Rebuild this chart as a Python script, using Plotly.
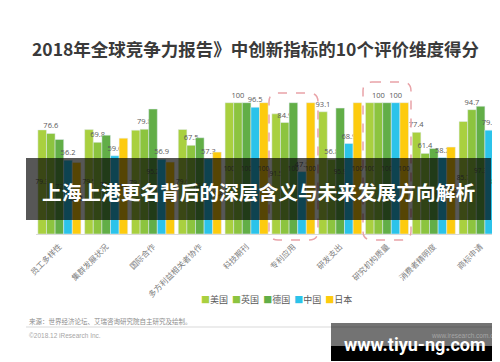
import plotly.graph_objects as go

categories = ["员工多样性", "集群发展状况", "国际合作", "多方利益相关者协作", "科技期刊",
              "专利应用", "研发支出", "研究机构质量", "消费者精明度", "商标申请"]
series_names = ["美国", "英国", "德国", "中国", "日本"]
usa = [79.3, 79.5, 79.1, 79.6, 100, 91.5, 93.1, 100, 77.4, 85.7]
uk = [76.6, 69.8, 79.8, 67.5, 100, 84.9, 56.8, 100, 61.4, 94.7]
germany = [72.0, 75.3, 95.2, 73.3, 100, 100, 95.9, 100, 65.1, 97.3]
china = [56.2, 59.6, 56.9, 57.3, 96.5, 47.5, 68.9, 100, 58.2, 79.1]
japan = [54.5, 73.0, 54.8, 62.4, 100, 100, 100, 100, 66.2, 80.7]
series_values = [usa, uk, germany, china, japan]
colors = ["#a9d03f", "#8cc43f", "#62ae47", "#2bc3ea", "#fdcb0e"]

title_text = "2018年全球竞争力报告》中创新指标的10个评价维度得分"
banner_text = "上海上港更名背后的深层含义与未来发展方向解析"
source_text = "来源：世界经济论坛、艾瑞咨询研究院自主研究及绘制。"
copyright_text = "©2018.12 iResearch Inc."
site_text = "www.iresearch.com.cn"
watermark_text = "www.tiyu-ng.com"

W, H = 500, 362
L, R, T, B = 28, 4, 75, 136
PW, PH = W - L - R, H - T - B


def px(x):
    return (x - L) / PW


def py(y):
    return (H - B - y) / PH


FONT = "Noto Sans CJK SC"

fig = go.Figure()
for i, (name, vals, col) in enumerate(zip(series_names, series_values, colors)):
    if name in ("英国", "中国"):
        pos = "outside"
    elif name == "美国":
        pos = ["outside" if k in (6, 8) else "inside" for k in range(len(vals))]
    else:
        pos = "inside"
    fig.add_trace(go.Bar(
        x=categories, y=vals, name=name, marker_color=col, showlegend=False,
        text=[f"{v:g}" for v in vals], textposition=pos, insidetextanchor="middle",
        textangle=0, constraintext="none", cliponaxis=False,
        textfont=dict(size=7.5, color="#595959", family="Open Sans"),
        insidetextfont=dict(size=6.5, color="#595959", family="Open Sans"),
        outsidetextfont=dict(size=7.5, color="#595959", family="Open Sans"),
    ))


def rounded(x0, y0, x1, y1, r):
    pts = [
        ("M", [(x0 + r, y0)]), ("L", [(x1 - r, y0)]), ("Q", [(x1, y0), (x1, y0 + r)]),
        ("L", [(x1, y1 - r)]), ("Q", [(x1, y1), (x1 - r, y1)]), ("L", [(x0 + r, y1)]),
        ("Q", [(x0, y1), (x0, y1 - r)]), ("L", [(x0, y0 + r)]), ("Q", [(x0, y0), (x0 + r, y0)]),
    ]
    s = ""
    for cmd, ps in pts:
        s += cmd + " " + " ".join(f"{px(a):.5f},{py(b):.5f}" for a, b in ps) + " "
    return s + "Z"


shapes = [
    dict(type="path", xref="paper", yref="paper", path=rounded(261, 85, 310, 232, 9),
         line=dict(color="#e9a3a8", width=1.5, dash="dash"), layer="above"),
    dict(type="path", xref="paper", yref="paper", path=rounded(355, 74, 403, 232, 9),
         line=dict(color="#e9a3a8", width=1.5, dash="dash"), layer="above"),
    # banner
    dict(type="rect", xref="paper", yref="paper", x0=px(18), x1=px(483), y0=py(212), y1=py(150),
         fillcolor="rgba(0,0,0,0.66)", line=dict(width=0), layer="above"),
    # footer line
    dict(type="line", xref="paper", yref="paper", x0=px(18), x1=px(491), y0=py(319), y1=py(319),
         line=dict(color="#d9d9d9", width=1), layer="above"),
    # watermark box
    dict(type="rect", xref="paper", yref="paper", x0=px(323), x1=px(491), y0=py(338), y1=py(315),
         fillcolor="rgba(0,0,0,0.55)", line=dict(width=0), layer="above"),
    dict(type="rect", xref="paper", yref="paper", x0=px(323), x1=px(491), y0=py(353), y1=py(338),
         fillcolor="#000000", line=dict(width=0), layer="above"),
]

legend_html = "  ".join(
    f"<span style='color:{c}'>■</span>{n}" for n, c in zip(series_names, colors)
)

annotations = [
    dict(text=f"<b>{title_text}</b>", x=px(247), y=py(41), xref="paper", yref="paper",
         showarrow=False, xanchor="center", yanchor="middle",
         font=dict(size=17.5, color="#3a3a3a", family=FONT)),
    dict(text=f"<b>{banner_text}</b>", x=px(250), y=py(183), xref="paper", yref="paper",
         showarrow=False, xanchor="center", yanchor="middle",
         font=dict(size=19.7, color="#ffffff", family=FONT)),
    dict(text=legend_html, x=px(268), y=py(291), xref="paper", yref="paper",
         showarrow=False, xanchor="center", yanchor="middle",
         font=dict(size=9, color="#595959", family=FONT)),
    dict(text=source_text, x=px(19), y=py(313), xref="paper", yref="paper",
         showarrow=False, xanchor="left", yanchor="middle",
         font=dict(size=6.5, color="#8c8c8c", family=FONT)),
    dict(text=copyright_text, x=px(19), y=py(327), xref="paper", yref="paper",
         showarrow=False, xanchor="left", yanchor="middle",
         font=dict(size=6.5, color="#a6a6a6", family="Liberation Sans")),
    dict(text=site_text, x=px(491), y=py(327), xref="paper", yref="paper",
         showarrow=False, xanchor="right", yanchor="middle",
         font=dict(size=6.5, color="#a6a6a6", family="Liberation Sans")),
    dict(text=f"<b>{watermark_text}</b>", x=px(407), y=py(336), xref="paper", yref="paper",
         showarrow=False, xanchor="center", yanchor="middle",
         font=dict(size=18, color="#ffffff", family="Roboto")),
]

fig.update_layout(
    width=W, height=H, margin=dict(l=L, r=R, t=T, b=B, autoexpand=False),
    paper_bgcolor="#ffffff", plot_bgcolor="#ffffff",
    barmode="group", bargap=0.08, bargroupgap=0,
    shapes=shapes, annotations=annotations, showlegend=False,
    xaxis=dict(tickangle=-45, tickfont=dict(size=8, color="#7f7f7f", family=FONT),
               showline=True, linecolor="#d9d9d9", linewidth=1, ticks="",
               ticklabelstandoff=4, showgrid=False, fixedrange=True),
    yaxis=dict(range=[0, 115], visible=False, showgrid=False, fixedrange=True),
)

fig.write_html("out.html")
